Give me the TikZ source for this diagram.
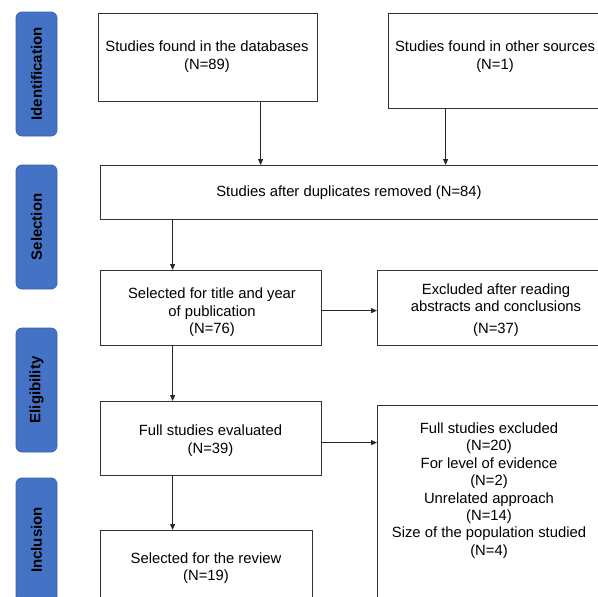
\documentclass[tikz,border=0pt]{standalone}
\usepackage{fontspec}
\setmainfont{Liberation Sans}
\usepackage{xcolor}
\usetikzlibrary{arrows.meta}

\definecolor{phaseblue}{HTML}{4472C4}
\definecolor{phaseedge}{HTML}{3A62AA}

\begin{document}
\begin{tikzpicture}[x=1pt,y=-1pt,
	box/.style={draw=black!80, line width=1.2pt, anchor=north west, inner sep=0pt},
	txt/.style={align=center, inner sep=0pt, font=\fontsize{14.8}{17.4}\selectfont},
	phase/.style={draw=phaseedge, fill=phaseblue, rounded corners=6pt, rotate=90,
		minimum width=124pt, minimum height=41pt, line width=0.8pt,
		font=\bfseries\fontsize{15}{18}\selectfont},
	arr/.style={-{Triangle[length=6pt,width=5pt]}, line width=0.9pt, black!85}]

\useasboundingbox (0,0) rectangle (598,597);
\clip (0,0) rectangle (598,597);

% phases on the left
\foreach \yc/\nm/\lbl in {74/ident/Identification, 227/select/Selection,
	390/elig/Eligibility, 540/incl/Inclusion}{
	\node[phase] (\nm) at (36.5,\yc) {\lbl};
}

% boxes
\node[box, minimum width=219pt, minimum height=88pt] (db) at (98,13) {};
\node[box, minimum width=240pt, minimum height=95pt] (other) at (388,13) {};
\node[box, minimum width=520pt, minimum height=54pt] (dup) at (100,165) {};
\node[box, minimum width=221pt, minimum height=75pt] (sel76) at (100,270) {};
\node[box, minimum width=240pt, minimum height=75pt] (excl37) at (377,270) {};
\node[box, minimum width=221pt, minimum height=74pt] (full39) at (100,401) {};
\node[box, minimum width=240pt, minimum height=220pt] (excl20) at (377,405) {};
\node[box, minimum width=212pt, minimum height=100pt] (sel19) at (100,530) {};

% texts
\node[txt] (tdb) at (207,56.5) {Studies found in the databases\\(N=89)};
\node[txt] (tother) at (495,56.5) {Studies found in other sources\\(N=1)};
\node[txt] (tdup) at (349,192.5) {Studies after duplicates removed (N=84)};
\node[txt] (tsel76) at (212,312.5) {Selected for title and year\\of publication\\(N=76)};
\node[txt] (texcl37) at (496,310) {Excluded after reading\\abstracts and conclusions\\[4.5pt](N=37)};
\node[txt] (tfull39) at (210.5,440.5) {Full studies evaluated\\(N=39)};
\node[txt] (texcl20) at (489,490.5) {Full studies excluded\\(N=20)\\For level of evidence\\(N=2)\\
	Unrelated approach\\(N=14)\\Size of the population studied\\(N=4)};
\node[txt] (tsel19) at (206,568) {Selected for the review\\(N=19)};

% arrows
\draw[arr] ([xshift=52.5pt]db.south) -- ([xshift=52.5pt]db.south |- dup.north);
\draw[arr] ([xshift=-63pt]other.south) -- ([xshift=-63pt]other.south |- dup.north);
\draw[arr] ([xshift=-38.5pt]sel76.north |- dup.south) -- ([xshift=-38.5pt]sel76.north);
\draw[arr] ([yshift=-2.5pt]sel76.east) -- ([yshift=-2.5pt]sel76.east -| excl37.west);
\draw[arr] ([xshift=-38.5pt]sel76.south) -- ([xshift=-38.5pt]full39.north);
\draw[arr] ([yshift=-4pt]full39.east) -- ([yshift=-4pt]full39.east -| excl20.west);
\draw[arr] ([xshift=-38.5pt]full39.south) -- ([xshift=-38.5pt]full39.south |- sel19.north);

\end{tikzpicture}
\end{document}
